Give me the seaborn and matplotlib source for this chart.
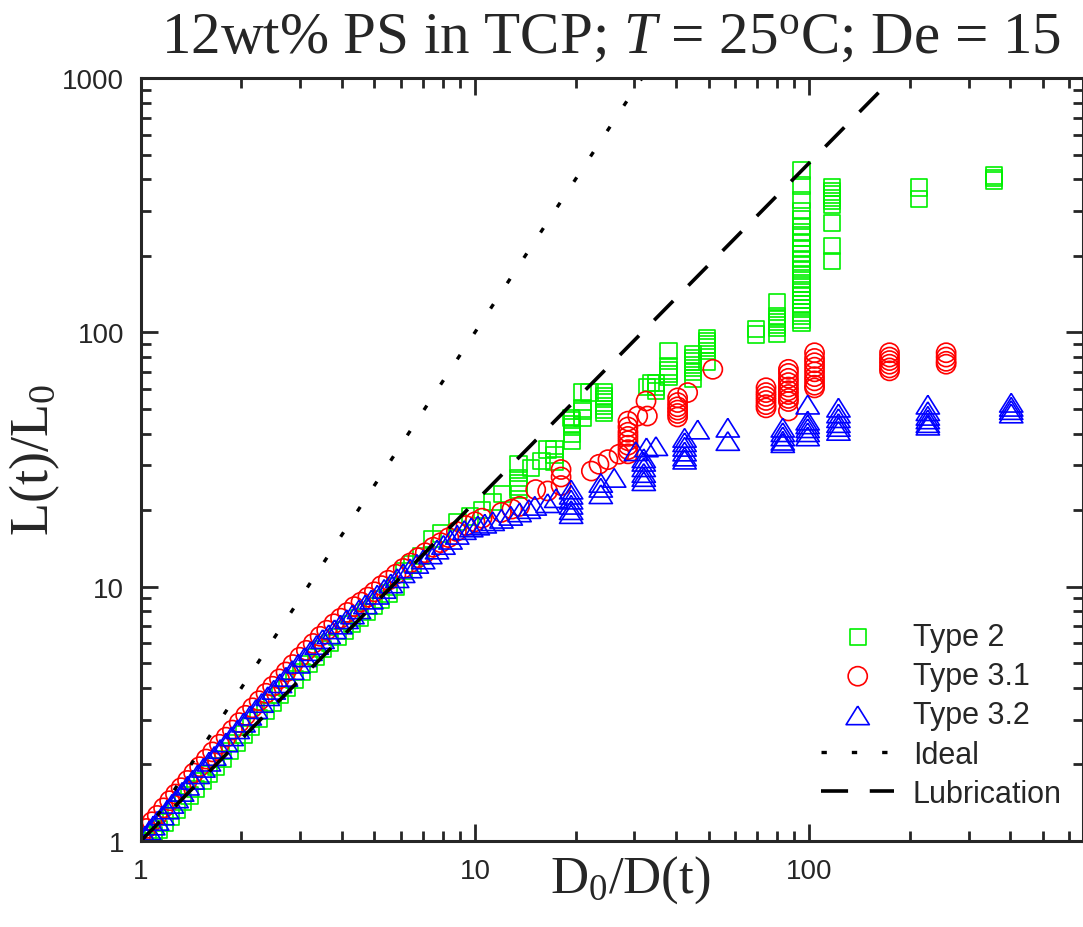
import matplotlib
matplotlib.use("Agg")
import matplotlib.pyplot as plt
import seaborn as sns
from matplotlib.ticker import NullFormatter, LogLocator

# ---- data ----
# Type 2 (green squares)
type2_x = [1.05, 1.09, 1.13, 1.18, 1.23, 1.28, 1.34, 1.4, 1.46, 1.53,
           1.6, 1.68, 1.76, 1.85, 1.94, 2.04, 2.14, 2.25, 2.36, 2.48,
           2.61, 2.74, 2.88, 3.03, 3.18, 3.34, 3.51, 3.69, 3.88, 4.08,
           4.29, 4.51, 4.74, 4.98, 5.24, 5.51, 5.79, 6.13, 6.5, 6.9,
           7.47, 7.91, 8.87, 9.67, 10.5, 11.3, 12.1,
           13.5, 13.5, 13.5, 13.5, 13.5, 14.7, 15.8, 16.5, 17.3, 17.3, 17.3,
           19.4, 19.5, 19.5, 19.5, 19.5, 19.5, 21.0, 21.0, 21.0, 21.0, 22.0,
           24.3, 24.3, 24.3, 24.3, 24.3, 24.3, 24.3, 32.7, 33.6, 34.8, 34.8, 34.8,
           38.0, 38.0, 38.0, 38.0, 38.0,
           44.9, 44.9, 44.9, 44.9, 44.9, 44.9, 44.9,
           49.4, 49.4, 49.4, 49.4, 49.4, 49.4, 69.4, 69.4,
           80, 80, 80, 80, 80, 80, 80,
           95, 95, 95, 95, 95, 95, 95, 95, 95, 95, 95, 95, 95, 95,
           95, 95, 95, 95, 95, 95, 95, 95, 95, 95, 95, 95, 95,
           117, 117, 117, 117, 117, 117, 117, 117, 117,
           213, 213, 358, 358, 358]
type2_y = [1.0, 1.05, 1.11, 1.18, 1.25, 1.33, 1.42, 1.51, 1.60, 1.72,
           1.83, 1.96, 2.10, 2.26, 2.43, 2.62, 2.82, 3.03, 3.25, 3.49,
           3.75, 4.02, 4.31, 4.63, 4.96, 5.30, 5.68, 6.00, 6.35, 6.72,
           7.12, 7.52, 7.95, 8.40, 8.9, 9.4, 10.0, 11.5, 12.3, 13.2,
           15.4, 16.2, 18.0, 18.9, 20.0, 21.5, 23.2,
           30.4, 26.7, 25.6, 24.8, 24.1, 29.3, 31.2, 34.7, 34.8, 33.0, 31.0,
           46.1, 45.2, 43.7, 42.4, 40.0, 37.5, 58.0, 50.3, 49.0, 46.0, 58.0,
           58.0, 56.2, 54.6, 53.0, 51.3, 49.8, 48.3, 61.0, 63.4, 63.3, 61.0, 58.9,
           84.6, 73.5, 70.8, 68.8, 66.8,
           82.0, 79.0, 77.0, 74.5, 72.3, 70.0, 66.0,
           95.0, 92.7, 89.8, 87.1, 84.6, 77.0, 103, 98,
           132, 116, 113, 110, 107, 104, 99,
           434, 379, 331, 300, 280, 262, 248, 236, 224, 213, 203, 194, 186, 178,
           170, 163, 156, 150, 144, 139, 134, 129, 124, 120, 116, 112, 109,
           371, 359, 349, 338, 328, 318, 270, 219, 191,
           372, 335, 414, 405, 396]

# Type 3.1 (red circles)
type31_x = [1.0, 1.04, 1.08, 1.12, 1.17, 1.22, 1.27, 1.32, 1.38, 1.44,
            1.5, 1.57, 1.64, 1.72, 1.8, 1.88, 1.97, 2.06, 2.16, 2.26,
            2.37, 2.48, 2.6, 2.72, 2.85, 2.99, 3.13, 3.28, 3.44, 3.6,
            3.78, 3.96, 4.15, 4.35, 4.56, 4.78, 5.0, 5.25, 5.5, 5.8,
            6.1, 6.4, 6.75, 7.1, 7.5, 7.9, 8.35, 8.8, 9.4, 10.0, 10.5,
            12.0, 12.9, 13.6, 15.2, 16.5, 18.1, 18.1, 18.1, 22.3, 23.5, 25.0, 27.0,
            28.7, 28.7, 28.7, 28.7, 28.7, 28.7, 28.7, 28.7,
            30.7, 32.5, 32.8, 40.4, 40.4, 40.4, 40.4, 40.4, 40.4, 43.3, 51.5,
            74.3, 74.3, 74.3, 74.3, 74.3, 74.3,
            86.7, 86.7, 86.7, 86.7, 86.7, 86.7, 86.7, 86.7, 86.7, 86.7,
            103.8, 103.8, 103.8, 103.8, 103.8, 103.8, 103.8, 103.8, 103.8,
            174, 174, 174, 174, 174, 174, 257, 257, 257, 257]
type31_y = [1.05, 1.12, 1.19, 1.26, 1.35, 1.44, 1.53, 1.62, 1.73, 1.85,
            1.96, 2.10, 2.24, 2.40, 2.56, 2.73, 2.92, 3.12, 3.34, 3.56,
            3.81, 4.06, 4.34, 4.62, 4.94, 5.28, 5.62, 5.98, 6.38, 6.74,
            7.15, 7.52, 7.92, 8.35, 8.7, 9.1, 9.55, 10.1, 10.6, 11.2,
            11.8, 12.4, 13.0, 13.6, 14.3, 14.9, 15.6, 16.5, 17.4, 18.0, 18.6,
            19.6, 20.2, 20.7, 24.1, 23.8, 28.9, 27.0, 25.0, 28.5, 30.3, 31.6, 33.2,
            44.8, 42.5, 40.5, 39.0, 37.5, 36.0, 34.6, 33.3,
            46.9, 53.7, 46.9, 55.3, 53.0, 51.0, 49.5, 48.0, 46.5, 58.0, 71.6,
            60.6, 58.0, 56.0, 54.0, 52.0, 50.5,
            71.6, 69, 66, 63.5, 61, 59, 57, 55, 53.5, 49.1,
            83.2, 79, 76, 73, 70, 67, 64.5, 62, 60.5,
            83.2, 80, 77.5, 75, 72.5, 70.6, 83.2, 80, 77, 75]

# Type 3.2 (blue triangles)
type32_x = [1.0, 1.03, 1.06, 1.09, 1.12, 1.16, 1.2, 1.24, 1.28, 1.33,
            1.38, 1.43, 1.48, 1.54, 1.6, 1.66, 1.73, 1.8, 1.87, 1.95,
            2.03, 2.12, 2.21, 2.3, 2.4, 2.5, 2.61, 2.72, 2.84, 2.96,
            3.09, 3.22, 3.36, 3.5, 3.65, 3.8, 3.96, 4.13, 4.3, 4.5,
            4.7, 4.9, 5.1, 5.35, 5.6, 5.85, 6.1, 6.4, 6.7, 7.0,
            7.35, 7.7, 8.05, 8.45, 8.85, 9.3, 9.75, 10.2, 10.7, 11.3,
            12.0, 12.8, 13.6, 14.5, 15.1, 16.5, 17.5,
            19.4, 19.4, 19.4, 19.4, 19.4, 19.4, 23.8, 23.8, 23.8, 26.1,
            30.3, 32.6, 34.8, 32.0, 32.0, 32.0, 32.0, 32.0, 32.0,
            42.4, 42.4, 42.4, 42.4, 42.4, 42.4, 46.4, 57.1, 57.1,
            83.4, 83.4, 83.4, 83.4, 83.4, 99, 99, 99, 99, 99, 99,
            122.4, 122.4, 122.4, 122.4, 122.4, 122.4,
            226.6, 226.6, 226.6, 226.6, 226.6, 226.6, 402.5, 402.5, 402.5, 402.5]
type32_y = [1.0, 1.05, 1.10, 1.15, 1.20, 1.26, 1.33, 1.40, 1.47, 1.56,
            1.65, 1.74, 1.83, 1.94, 2.05, 2.16, 2.30, 2.44, 2.58, 2.75,
            2.92, 3.11, 3.30, 3.49, 3.71, 3.93, 4.17, 4.42, 4.70, 4.98,
            5.28, 5.58, 5.90, 6.22, 6.50, 6.80, 7.10, 7.45, 7.78, 8.15,
            8.52, 8.9, 9.3, 9.8, 10.3, 10.8, 11.3, 11.8, 12.3, 12.8,
            13.4, 14.0, 14.6, 15.3, 16.0, 16.7, 17.1, 17.4, 17.7, 18.1,
            18.5, 19.0, 19.6, 20.2, 20.8, 21.3, 22.3,
            24.1, 23.0, 22.0, 21.0, 20.0, 19.3, 25.6, 24.5, 23.1, 26.8,
            34.1, 35.3, 35.7, 32.0, 31.0, 29.5, 28.0, 27.0, 26.0,
            38.5, 37.0, 35.5, 34.0, 32.5, 31.6, 41.5, 42.2, 37.4,
            42.2, 40.5, 39.0, 37.5, 36.7, 52, 45, 43.5, 42, 40.5, 39,
            50.6, 48, 46, 44, 42.5, 41,
            52, 49, 47, 45.5, 44, 43, 52.9, 51, 49.5, 48]

# reference lines
ideal_x = [1, 31.6]
ideal_y = [1, 1000]
lub_x = [1, 178]
lub_y = [1, 1000]

sns.set_style("ticks")
plt.rcParams.update({
    "font.family": ["Liberation Sans", "DejaVu Sans"],
    "mathtext.fontset": "custom",
    "mathtext.rm": "Liberation Serif",
    "mathtext.it": "Liberation Serif:italic",
})

GREEN, RED, BLUE = "#00f000", "#ff0000", "#0000ff"
tri = [(0, 0.8), (-1, -0.8), (1, -0.8), (0, 0.8)]

fig = plt.figure(figsize=(10.83, 9.28), dpi=100)
ax = fig.add_axes([0.130, 0.0927, 0.870, 0.822])
ax.set_xscale("log")
ax.set_yscale("log")

sns.scatterplot(x=type2_x, y=type2_y, marker="s", s=140, color=GREEN,
                facecolor="none", edgecolor=GREEN, linewidth=1.2, label="Type 2", ax=ax)
sns.scatterplot(x=type31_x, y=type31_y, marker="o", s=190, color=RED,
                facecolor="none", edgecolor=RED, linewidth=1.2, label="Type 3.1", ax=ax)
sns.scatterplot(x=type32_x, y=type32_y, marker=tri, s=280, color=BLUE,
                facecolor="none", edgecolor=BLUE, linewidth=1.2, label="Type 3.2", ax=ax)
sns.lineplot(x=ideal_x, y=ideal_y, color="k", lw=2.4, linestyle=(0, (1.6, 7.5)),
             label="Ideal", ax=ax)
sns.lineplot(x=lub_x, y=lub_y, color="k", lw=2.6, linestyle=(0, (7.5, 6)),
             label="Lubrication", ax=ax)

ax.set_xlim(1, 660)
ax.set_ylim(1, 1000)
ax.set_xticks([1, 10, 100])
ax.set_xticklabels(["1", "10", "100"])
ax.set_yticks([1, 10, 100, 1000])
ax.set_yticklabels(["1", "10", "100", "1000"])
for axis in (ax.xaxis, ax.yaxis):
    axis.set_minor_locator(LogLocator(base=10, subs=range(2, 10)))
    axis.set_minor_formatter(NullFormatter())
ax.tick_params(which="major", direction="in", length=12, width=2,
               top=True, right=True, labelsize=20, pad=12)
ax.tick_params(which="minor", direction="in", length=7, width=2,
               top=True, right=True)
for sp in ax.spines.values():
    sp.set_linewidth(2.2)
ax.set_xlabel("")
ax.set_ylabel("")

fig.text(0.564, 0.958, r"12wt% PS in TCP; $\mathit{T}$ = 25$^\mathrm{o}$C; De = 15",
         ha="center", va="center", fontsize=42.5, family="Liberation Serif")
fig.text(0.582, 0.052, r"D$_\mathrm{0}$/D(t)", ha="center", va="center",
         fontsize=38, family="Liberation Serif")
fig.text(0.032, 0.504, r"L(t)/L$_\mathrm{0}$", ha="center", va="center",
         rotation=90, fontsize=39, family="Liberation Serif")

ax.legend(loc="lower right", bbox_to_anchor=(1077 / 1083, 1 - 825 / 928),
          bbox_transform=fig.transFigure, frameon=False, fontsize=22,
          handlelength=2.4, handletextpad=0.6, labelspacing=0.3, borderpad=0)

fig.savefig("out.png", dpi=100)
